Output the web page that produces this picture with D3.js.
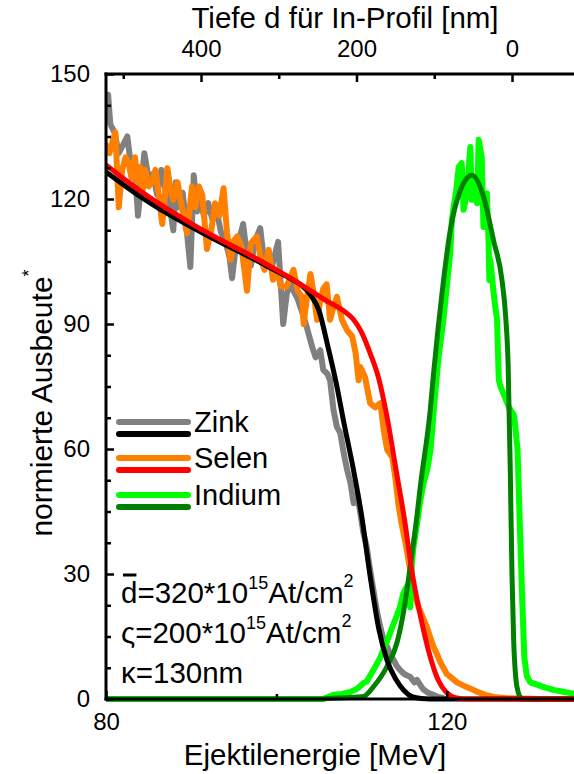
<!DOCTYPE html>
<html>
<head>
<meta charset="utf-8">
<script src="https://cdn.jsdelivr.net/npm/d3@7"></script>
<style>
  html, body { margin: 0; padding: 0; background: #fff; }
  svg { display: block; font-family: "Liberation Sans", Arial, Helvetica, sans-serif; }
</style>
</head>
<body>
<svg id="chart" width="574" height="774"></svg>
<script>
// ---- measured spectra (ejectile energy in MeV, normalised yield) ----
const zinkE = [80.0,80.25,80.5,81.0,81.5,82.0,82.5,83.0,83.5,83.75,84.0,84.5,85.0,85.5,86.0,86.5,87.0,87.5,87.9,88.2,88.5,89.0,89.5,89.9,90.3,90.7,91.0,91.5,92.0,92.5,93.0,93.5,94.0,94.5,94.8,95.2,95.6,96.1,96.5,97.0,97.5,98.1,98.5,99.0,99.5,100.2,100.8,101.2,101.6,102.0,102.5,103.0,103.6,104.2,104.6,105.15,105.5,106.0,106.3,106.7,107.1,107.5,107.9,108.3,108.7,109.06,109.5,109.85,110.2,110.6,111.0,111.4,111.8,112.2,112.6,113.0,113.4,113.75,114.1,114.5,115.0,115.7,116.2,116.5,117.0,117.3,117.8,118.4,119.0,119.6];
const zinkCounts = [140,145,138,136,131,133,135,127,124,116,121,131,125,126,121,127,122,118,112.5,124,118,121.5,112,103.7,125.7,117,120,116,119,115,117,112,110,106,101,108,110,114,107,104,110,113,106,107,104,109.7,90,97,100,98,96,93,89,84.5,82,83.7,79,78,76.5,69.4,65.3,63.8,59,55,51.8,47,49,44.6,40,36.5,31,26,21,17.3,14,12.5,10.5,9.4,8,7,6,5.3,4,4.6,3,2.2,1.5,1,0.5,0.2];

const selenE = [80.0,80.4,80.8,81.1,81.5,81.9,82.3,82.65,83.0,83.4,83.7,84.0,84.3,84.6,85.0,85.4,85.8,86.2,86.6,87.2,87.6,87.9,88.4,88.9,89.5,90.1,90.5,90.9,91.3,91.85,92.4,92.8,93.3,93.8,94.2,94.6,95.0,95.4,95.9,96.55,97.0,97.7,98.2,98.6,99.1,99.6,100.1,100.5,101.2,101.6,102.0,102.5,103.0,103.2,103.5,104.0,104.4,104.77,105.1,105.5,105.9,106.3,106.7,107.1,107.7,108.3,108.9,109.3,109.65,109.85,110.4,111.0,111.6,112.2,112.6,113.0,113.6,113.95,114.3,114.7,115.2,115.7,116.2,116.7,117.2,117.7,118.1,118.45,118.8,119.2,119.6,120.0,120.6,121.2,121.8,122.4,123.0,123.5,124.5,125.5,127.0,129.0,131.0,136.0];
const selenCounts = [133,131,134,136,118,127,130,128.6,125,130,124,127.7,122,127,123,124,127,121,114,127.4,122,119.8,124,118,111.8,123,118,123,121,108,113,119,116,122.6,112,105.4,110,111,108.5,98,109.4,111,105.4,103,107.8,100.6,103,99,99,101,103,98,96.5,90,95,102,97,91,95,98.5,99.5,91,94,96.5,91,88.5,87,83,76.5,79.7,77.3,71,70,71,64.5,59.8,58,53.3,47,42,37,31,25,22,19.5,17,14.5,12.5,11,9,7.5,6,5,4,3.4,2.8,2.3,1.8,1,0.5,0.2,0.1,0,0];

const indiumE = [80,105.5,106.7,107.7,108.7,109.5,110.2,110.6,111.4,112.2,113.0,113.75,114.5,114.9,115.3,115.7,115.9,116.1,116.5,116.9,117.3,117.7,118.1,118.5,119.0,119.6,120.0,120.4,120.6,120.8,121.1,121.4,121.75,121.97,122.36,122.76,122.95,123.35,123.55,123.74,124.1,124.3,124.7,124.9,125.0,125.1,125.5,125.7,125.9,126.1,126.3,126.7,127.3,127.9,128.3,128.6,128.85,129.1,129.4,129.8,130.5,131.5,132.5,133.5,134.5,135.5];
const indiumCounts = [0,0,1,1.2,1.7,2.5,3.8,4.2,7,10,14,18,22,25.4,27,22,32.6,36.6,42,47.8,52,55,60,70,81.4,91,99,107,115,118,122,127.7,128.6,117.4,121.4,132.5,119.8,125.3,119,134.2,130,113.3,121.4,110,100.5,105.4,97.4,94,91,76.6,75,73,70,68,60,40,24,10,5.5,4,3.5,2.8,2.2,1.8,1.4,1];

// ---- simulated profiles ----
const zinkFitE = [80,82,84,86,88,90,92,94,96,98,100,102,103,104,105,106,107,108,109,110,111,112,113,114,115,116,117,118,136];
const zinkFit = [126.5,123.5,120.6,118,115.6,113.3,111.1,109,107,104.9,102.7,100.5,99.2,97,93.2,85,76,65.5,55.5,44,29.5,17,9.2,4.8,2,0.5,0.1,0,0];

const selenFitE = [80,82,84,86,88,90,92,94,96,98,100,102,104,105,106,107,108,109,110,111,112,113,114,115,116,117,118,119,120,121,122,136];
const selenFit = [128.2,125,122,119.2,116.6,114.1,111.8,109.6,107.5,105.3,103,100.6,98,96.7,95.4,94.3,93,91.2,88,83,77,67.5,55.5,43.5,29.5,19,10.5,4.5,1.5,0.3,0,0];

const indiumFitE = [80,105,106,108,110.23,111.41,112.98,114.15,114.93,115.72,116.5,116.89,118.06,118.45,119.44,120.41,121.58,122.96,124.32,125.49,126.48,126.9,127.2,127.45,127.65,127.85,128.1,128.4,128.8,136];
const indiumFit = [0,0,0.1,0.3,0.6,3,7.8,13.5,21,32,44,51,69.4,78.2,97.4,112.5,122,125.7,120.5,110,100.5,92,80,55,30,14,5,1.5,0,0];

// ---- axis ticks ----
const energyMajor = [80, 120];
const energyMinor = [100];
const yieldMajor = [0, 30, 60, 90, 120, 150];
const yieldMinor = [7.5, 15, 22.5, 37.5, 45, 52.5, 67.5, 75, 82.5, 97.5, 105, 112.5, 127.5, 135, 142.5];
const depthMajor = [400, 200, 0];
const depthMinor = [500, 300, 100];

const legendNames = ["Zink", "Selen", "Indium"];

(function draw() {
  const svg = d3.select("#chart");
  const padL = 106, baseY = 699, topY = 74, edgeR = 574;

  const x = d3.scaleLinear().domain([80, 140]).range([padL, padL + 60 * 8.52]);
  const y = d3.scaleLinear().domain([0, 150]).range([baseY, topY]);
  const depth = d3.scaleLinear().domain([0, 400]).range([512, 201]);

  svg.append("defs").append("clipPath").attr("id", "plotClip")
    .append("rect").attr("x", padL).attr("y", topY - 10)
    .attr("width", edgeR - padL + 10).attr("height", baseY - topY + 16);

  const plot = svg.append("g").attr("clip-path", "url(#plotClip)");

  const rawLine = d3.line().x(d => x(d[0])).y(d => y(d[1])).curve(d3.curveLinear);
  const fitLine = d3.line().x(d => x(d[0])).y(d => y(d[1])).curve(d3.curveMonotoneX);

  const layers = [
    { E: zinkE, V: zinkCounts, color: "#808080", w: 6, gen: rawLine },
    { E: selenE, V: selenCounts, color: "#ff8000", w: 6, gen: rawLine },
    { E: indiumE, V: indiumCounts, color: "#00ff00", w: 6, gen: rawLine },
    { E: indiumFitE, V: indiumFit, color: "#008000", w: 5, gen: fitLine },
    { E: zinkFitE, V: zinkFit, color: "#000000", w: 5, gen: fitLine },
    { E: selenFitE, V: selenFit, color: "#ff0000", w: 5, gen: fitLine }
  ];

  layers.forEach(s => {
    plot.append("path")
      .attr("d", s.gen(d3.zip(s.E, s.V)))
      .attr("fill", "none")
      .attr("stroke", s.color)
      .attr("stroke-width", s.w)
      .attr("stroke-linejoin", "round")
      .attr("stroke-linecap", "round");
  });

  function styleAxis(g) {
    g.attr("font-family", null).attr("font-size", 24);
    g.select(".domain").remove();
    g.selectAll(".tick line").attr("stroke", "#000").attr("stroke-width", 2.5);
    g.selectAll(".tick text").attr("fill", "#000");
  }

  svg.append("g").attr("transform", `translate(${padL},0)`)
    .call(d3.axisLeft(y).tickValues(yieldMajor).tickSize(-8).tickPadding(16).tickFormat(d3.format("d")))
    .call(styleAxis);
  svg.append("g").attr("transform", `translate(${padL},0)`)
    .call(d3.axisLeft(y).tickValues(yieldMinor).tickSize(-5).tickFormat(""))
    .call(styleAxis);

  svg.append("g").attr("transform", `translate(0,${baseY})`)
    .call(d3.axisBottom(x).tickValues(energyMajor).tickSize(-8).tickPadding(14).tickFormat(d3.format("d")))
    .call(styleAxis);
  svg.append("g").attr("transform", `translate(0,${baseY})`)
    .call(d3.axisBottom(x).tickValues(energyMinor).tickSize(-5).tickFormat(""))
    .call(styleAxis);

  svg.append("g").attr("transform", `translate(0,${topY})`)
    .call(d3.axisTop(depth).tickValues(depthMajor).tickSize(-8).tickPadding(17).tickFormat(d3.format("d")))
    .call(styleAxis);
  svg.append("g").attr("transform", `translate(0,${topY})`)
    .call(d3.axisTop(depth).tickValues(depthMinor).tickSize(-5).tickFormat(""))
    .call(styleAxis);

  // frame lines
  const frame = svg.append("g").attr("stroke", "#000").attr("stroke-width", 3).attr("stroke-linecap", "square");
  frame.append("line").attr("x1", padL).attr("x2", padL).attr("y1", topY).attr("y2", baseY);
  frame.append("line").attr("x1", padL).attr("x2", edgeR + 2).attr("y1", baseY).attr("y2", baseY);
  frame.append("line").attr("x1", padL).attr("x2", edgeR + 2).attr("y1", topY).attr("y2", topY);

  // axis titles
  svg.append("text").attr("x", 345).attr("y", 28).attr("text-anchor", "middle")
    .attr("font-size", 29.5).text("Tiefe d für In-Profil [nm]");
  svg.append("text").attr("x", 315).attr("y", 765).attr("text-anchor", "middle")
    .attr("font-size", 29.5).text("Ejektilenergie [MeV]");

  const yTitle = svg.append("text").attr("transform", "translate(52,403) rotate(-90)")
    .attr("text-anchor", "middle").attr("font-size", 30);
  yTitle.append("tspan").text("normierte Ausbeute");
  yTitle.append("tspan").text("*").attr("font-size", 18).attr("dy", -17);

  // legend
  const legendColors = [["#808080", "#000000"], ["#ff8000", "#ff0000"], ["#00ff00", "#008000"]];
  const legendRows = [422, 458, 495];
  const legend = svg.append("g");
  legendNames.forEach((name, i) => {
    const yy = legendRows[i];
    legend.append("line").attr("x1", 119).attr("x2", 188).attr("y1", yy).attr("y2", yy)
      .attr("stroke", legendColors[i][0]).attr("stroke-width", 6).attr("stroke-linecap", "round");
    legend.append("line").attr("x1", 119).attr("x2", 188).attr("y1", yy + 12).attr("y2", yy + 12)
      .attr("stroke", legendColors[i][1]).attr("stroke-width", 6).attr("stroke-linecap", "round");
    legend.append("text").attr("x", 194).attr("y", yy + 10).attr("font-size", 29).text(name);
  });

  // parameter annotation
  const ann = svg.append("g").attr("font-size", 29.5);
  const t1 = ann.append("text").attr("x", 121).attr("y", 603);
  const dBar = t1.append("tspan").text("d");
  t1.append("tspan").text("=320*10");
  t1.append("tspan").text("15").attr("font-size", 18).attr("dy", -14);
  t1.append("tspan").text("At/cm").attr("dy", 14);
  t1.append("tspan").text("2").attr("font-size", 18).attr("dy", -16);
  const dW = dBar.node().getComputedTextLength();
  ann.append("line").attr("x1", 123).attr("x2", 121 + dW - 1).attr("y1", 575).attr("y2", 575)
    .attr("stroke", "#000").attr("stroke-width", 3);

  const t2 = ann.append("text").attr("x", 121).attr("y", 643);
  t2.append("tspan").text("ς=200*10");
  t2.append("tspan").text("15").attr("font-size", 18).attr("dy", -14);
  t2.append("tspan").text("At/cm").attr("dy", 14);
  t2.append("tspan").text("2").attr("font-size", 18).attr("dy", -16);

  ann.append("text").attr("x", 121).attr("y", 683).text("κ=130nm");
})();
</script>
</body>
</html>
